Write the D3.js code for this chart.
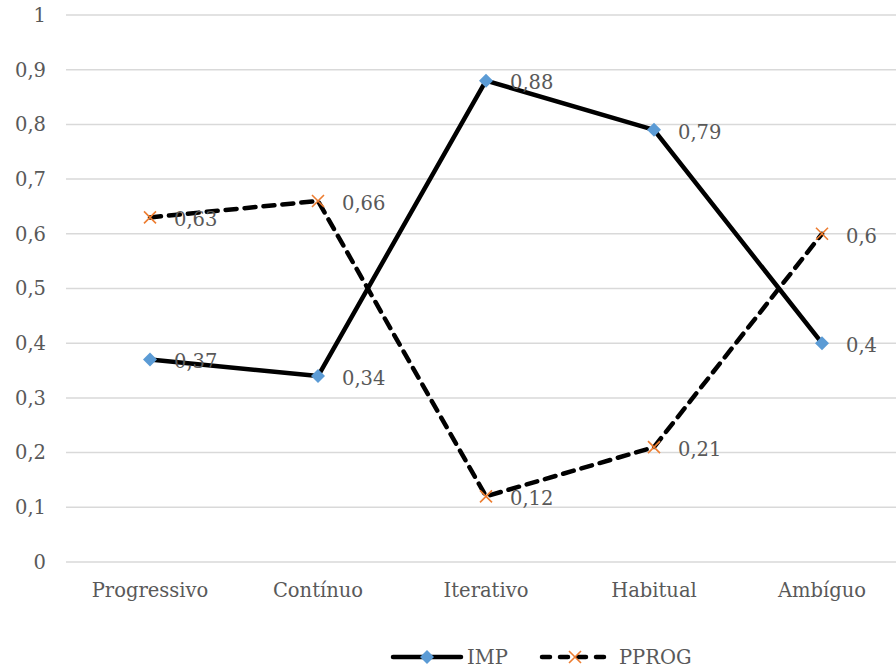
<!DOCTYPE html>
<html><head><meta charset="utf-8">
<script src="https://cdn.jsdelivr.net/npm/d3@7"></script>
<style>body{margin:0;background:#fff}svg{display:block}text{font-family:"DejaVu Serif","Liberation Serif",serif;fill:#595959}</style>
</head><body><svg id="c" width="896" height="671"></svg>
<script>
const categories = ["Progressivo","Contínuo","Iterativo","Habitual","Ambíguo"];
const impValues = [0.37,0.34,0.88,0.79,0.4];
const pprogValues = [0.63,0.66,0.12,0.21,0.6];
const seriesNames = ["IMP","PPROG"];
const yTicks = [0,0.1,0.2,0.3,0.4,0.5,0.6,0.7,0.8,0.9,1];

(function(){
const svg = d3.select("#c");
const pLeft = 66, pRight = 906, pTop = 15, pBottom = 562;
const x = d3.scalePoint().domain(categories).range([pLeft, pRight]).padding(0.5);
const y = d3.scaleLinear().domain([0,1]).range([pBottom, pTop]);
const fmt = v => String(v).replace(".", ",");
const FS = 19.5;

// grid
svg.append("g").selectAll("line").data(yTicks).join("line")
  .attr("x1", pLeft).attr("x2", 896).attr("y1", d=>y(d)).attr("y2", d=>y(d))
  .attr("stroke", "#d9d9d9").attr("stroke-width", 1.5);

// y axis labels
svg.append("g").selectAll("text").data(yTicks).join("text")
  .attr("x", 46).attr("y", d=>y(d)).attr("dy", "0.35em")
  .attr("text-anchor", "end").attr("font-size", FS).text(d=>fmt(d));

// x labels
svg.append("g").selectAll("text").data(categories).join("text")
  .attr("x", d=>x(d)).attr("y", 590).attr("dy", "0.35em")
  .attr("text-anchor", "middle").attr("font-size", FS).text(d=>d);

const line = d3.line().x((d,i)=>x(categories[i])).y(d=>y(d));

svg.append("path").datum(impValues).attr("d", line).attr("fill","none")
  .attr("stroke","#000").attr("stroke-width",4.5).attr("stroke-linejoin","round");
svg.append("path").datum(pprogValues).attr("d", line).attr("fill","none")
  .attr("stroke","#000").attr("stroke-width",4.5).attr("stroke-dasharray","11,8")
  .attr("stroke-linecap","round").attr("stroke-linejoin","round");

const diamond = (g, cx, cy) => g.append("path")
  .attr("d", `M${cx},${cy-7}L${cx+7},${cy}L${cx},${cy+7}L${cx-7},${cy}Z`)
  .attr("fill", "#5B9BD5");
const cross = (g, cx, cy) => g.append("path")
  .attr("d", `M${cx-6},${cy-6}L${cx+6},${cy+6}M${cx+6},${cy-6}L${cx-6},${cy+6}`)
  .attr("stroke", "#ED7D31").attr("stroke-width", 1.6).attr("fill","none");

const gm = svg.append("g");
impValues.forEach((v,i)=>diamond(gm, x(categories[i]), y(v)));
pprogValues.forEach((v,i)=>cross(gm, x(categories[i]), y(v)));

// data labels
const gl = svg.append("g");
const lab = (vals) => vals.forEach((v,i)=>{
  gl.append("text").attr("x", x(categories[i]) + 24).attr("y", y(v) + 2).attr("dy","0.35em")
    .attr("font-size", FS).text(fmt(v));
});
lab(impValues); lab(pprogValues);

// legend
const lg = svg.append("g");
lg.append("line").attr("x1",393).attr("x2",461).attr("y1",657).attr("y2",657)
  .attr("stroke","#000").attr("stroke-width",4.5).attr("stroke-linecap","round");
diamond(lg, 427, 657);
lg.append("text").attr("x",467).attr("y",657).attr("dy","0.35em").attr("font-size",FS).text(seriesNames[0]);
lg.append("line").attr("x1",542).attr("x2",609).attr("y1",657).attr("y2",657)
  .attr("stroke","#000").attr("stroke-width",4.5).attr("stroke-dasharray","8,10").attr("stroke-linecap","round");
cross(lg, 575, 657);
lg.append("text").attr("x",619).attr("y",657).attr("dy","0.35em").attr("font-size",FS).text(seriesNames[1]);
})();
</script></body></html>
